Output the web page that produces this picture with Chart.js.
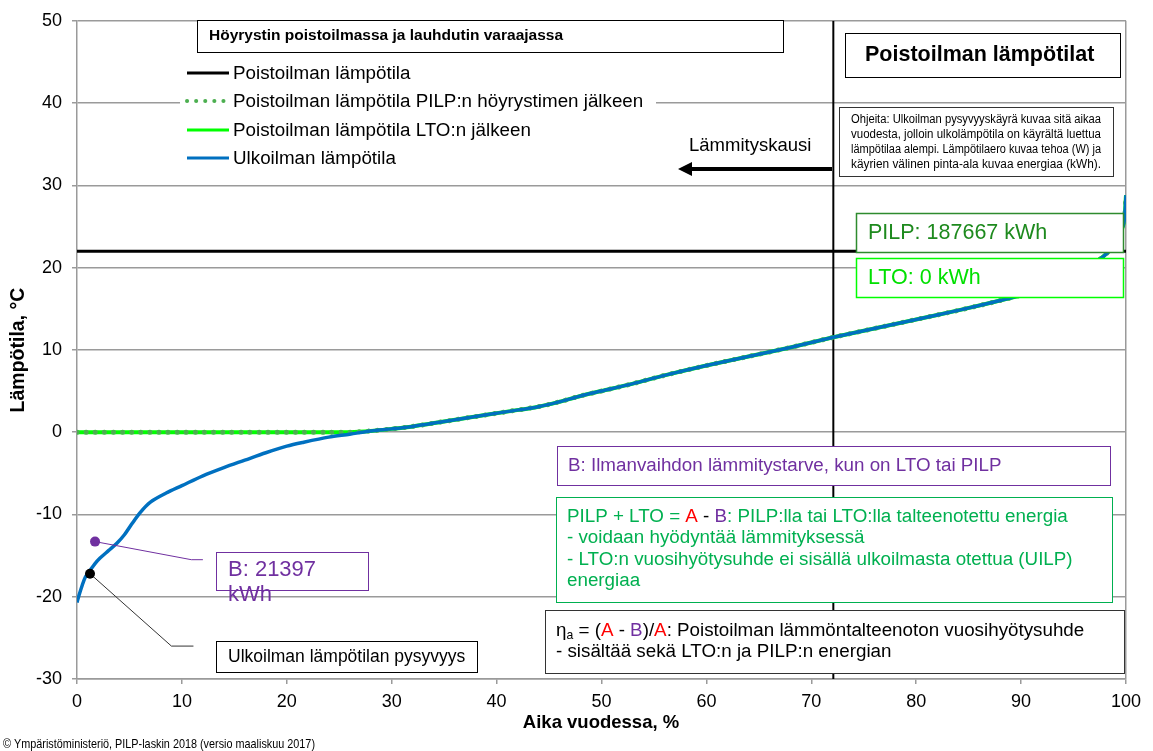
<!DOCTYPE html>
<html>
<head>
<meta charset="utf-8">
<script src="https://cdn.jsdelivr.net/npm/chart.js@4"></script>
<style>
  html, body { margin: 0; padding: 0; background: #fff; }
  #chart { display: block; }
</style>
</head>
<body>
<canvas id="chart" width="1153" height="751"></canvas>
<script>
// Poistoilman lämpötilat: ulkoilman pysyvyyskäyrä + poistoilman lämpötilat (PILP-laskin)

// Aika vuodessa, % (x) ja lämpötilat (°C), luettu kuvasta
const TIME_PCT = [0, 0.2, 0.5, 0.8, 1.2, 1.7, 2.2, 3.0, 3.8, 4.5, 5.2, 6.0, 7.0, 8.5, 10, 12, 14, 16, 18, 20, 21.5, 24, 26, 28, 30, 32, 35, 38, 41, 44, 46, 48, 50, 53, 56, 60, 64, 68, 72, 76, 80, 84, 88, 91, 94, 96, 97.5, 98.5, 99.3, 99.8, 100];
const OUTDOOR_T = [-20.7, -19.8, -18.6, -17.6, -16.9, -16.0, -15.3, -14.4, -13.5, -12.5, -11.2, -9.8, -8.5, -7.4, -6.5, -5.3, -4.3, -3.4, -2.5, -1.7, -1.25, -0.6, -0.25, 0.15, 0.4, 0.7, 1.3, 1.9, 2.5, 3.1, 3.7, 4.4, 5.0, 5.9, 6.9, 8.1, 9.2, 10.3, 11.5, 12.6, 13.7, 14.8, 16.0, 17.0, 18.3, 19.6, 21.0, 22.2, 23.8, 25.5, 28.8];
const AFTER_LTO_T = [0, 0, 0, 0, 0, 0, 0, 0, 0, 0, 0, 0, 0, 0, 0, 0, 0, 0, 0, 0, 0, 0, 0, 0.15, 0.4, 0.7, 1.3, 1.9, 2.5, 3.1, 3.7, 4.4, 5.0, 5.9, 6.9, 8.1, 9.2, 10.3, 11.5, 12.6, 13.7, 14.8, 16.0, 17.0, 18.3, 19.6, 21.0, 22.2, 23.8, 25.5, 28.8];
const AFTER_PILP_T = [0, 0, 0, 0, 0, 0, 0, 0, 0, 0, 0, 0, 0, 0, 0, 0, 0, 0, 0, 0, 0, 0, 0, 0.15, 0.4, 0.7, 1.3, 1.9, 2.5, 3.1, 3.7, 4.4, 5.0, 5.9, 6.9, 8.1, 9.2, 10.3, 11.5, 12.6, 13.7, 14.8, 16.0, 17.0, 18.3, 19.6, 21.0, 22.2, 23.8, 25.5, 28.8];

const EXHAUST_X = [0, 100];
const EXHAUST_T = [22, 22];

const HEATING_LIMIT_X = [72.1, 72.1];
const HEATING_LIMIT_Y = [50, -30];

// callouts: dot on curve -> elbow -> end
const CALLOUT_B_X = [1.72, 10.9, 12.0];
const CALLOUT_B_Y = [-13.3, -15.5, -15.5];
const CALLOUT_P_X = [1.24, 9.0, 11.1];
const CALLOUT_P_Y = [-17.2, -26.0, -26.0];

const X_TICKS = [0, 10, 20, 30, 40, 50, 60, 70, 80, 90, 100];
const Y_TICKS = [-30, -20, -10, 0, 10, 20, 30, 40, 50];

const LEGEND_ITEMS = [
  { label: 'Poistoilman lämpötila', kind: 'solid', color: '#000000' },
  { label: 'Poistoilman lämpötila PILP:n höyrystimen jälkeen', kind: 'dots', color: '#4caf50' },
  { label: 'Poistoilman lämpötila LTO:n jälkeen', kind: 'solid', color: '#00ff00' },
  { label: 'Ulkoilman lämpötila', kind: 'solid', color: '#0070c0' }
];

const FONT = '"Liberation Sans", Arial, sans-serif';
const NARROW = '"Liberation Sans Narrow", "Arial Narrow", "Liberation Sans", sans-serif';
const PURPLE = '#7030a0';
const GREEN = '#00b050';
const RED = '#ff0000';

const pts = (xs, ys) => xs.map((x, i) => ({ x, y: ys[i] }));

function box(ctx, x1, y1, x2, y2, stroke, lw) {
  ctx.save();
  ctx.fillStyle = '#fff';
  ctx.fillRect(x1, y1, x2 - x1, y2 - y1);
  ctx.strokeStyle = stroke;
  ctx.lineWidth = lw || 1;
  ctx.strokeRect(x1 + 0.5, y1 + 0.5, x2 - x1, y2 - y1);
  ctx.restore();
}

function text(ctx, str, x, y, font, color, maxW) {
  ctx.save();
  ctx.font = font;
  ctx.fillStyle = color;
  ctx.textBaseline = 'middle';
  if (maxW) ctx.fillText(str, x, y, maxW); else ctx.fillText(str, x, y);
  ctx.restore();
}

// segments of differently coloured text on one line
function rich(ctx, segs, x, y, size) {
  ctx.save();
  ctx.textBaseline = 'middle';
  let cx = x;
  for (const s of segs) {
    const fs = s.sub ? size * 0.65 : size;
    ctx.font = fs + 'px ' + FONT;
    ctx.fillStyle = s.c;
    ctx.fillText(s.t, cx, s.sub ? y + size * 0.25 : y);
    cx += ctx.measureText(s.t).width;
  }
  ctx.restore();
}

const annotations = {
  id: 'annotations',
  afterDatasetsDraw(chart) {
    const ctx = chart.ctx;

    // legend block
    ctx.save();
    ctx.fillStyle = '#fff';
    ctx.fillRect(180, 60, 476, 112);
    ctx.restore();
    box(ctx, 197, 20, 783, 52, '#000', 1);
    text(ctx, 'Höyrystin poistoilmassa ja lauhdutin varaajassa', 209, 36, 'bold 15.5px ' + FONT, '#000');
    const rows = [73, 101, 130, 158];
    LEGEND_ITEMS.forEach((it, i) => {
      const y = rows[i];
      ctx.save();
      ctx.strokeStyle = it.color;
      if (it.kind === 'dots') {
        ctx.lineWidth = 4;
        ctx.lineCap = 'round';
        ctx.setLineDash([0.1, 9]);
      } else {
        ctx.lineWidth = 3;
      }
      ctx.beginPath();
      ctx.moveTo(187, y);
      ctx.lineTo(229, y);
      ctx.stroke();
      ctx.restore();
      text(ctx, it.label, 233, y + 1, '18.8px ' + FONT, '#000');
    });

    // title box
    box(ctx, 845, 33, 1120, 77, '#000', 1);
    text(ctx, 'Poistoilman lämpötilat', 865, 55, 'bold 21.5px ' + FONT, '#000');

    // instructions
    box(ctx, 839, 107, 1113, 176, '#333', 1);
    const help = [
      'Ohjeita: Ulkoilman pysyvyyskäyrä kuvaa sitä aikaa',
      'vuodesta, jolloin ulkolämpötila on käyrältä luettua',
      'lämpötilaa alempi. Lämpötilaero kuvaa tehoa (W) ja',
      'käyrien välinen pinta-ala kuvaa energiaa (kWh).'
    ];
    help.forEach((l, i) => text(ctx, l, 851, 120 + i * 15, '12.5px ' + NARROW, '#000', 250));

    // heating season arrow
    text(ctx, 'Lämmityskausi', 689, 146, '18.5px ' + FONT, '#000');
    ctx.save();
    ctx.strokeStyle = '#000';
    ctx.fillStyle = '#000';
    ctx.lineWidth = 4;
    ctx.beginPath();
    ctx.moveTo(832, 169);
    ctx.lineTo(688, 169);
    ctx.stroke();
    ctx.beginPath();
    ctx.moveTo(678, 169);
    ctx.lineTo(692, 162);
    ctx.lineTo(692, 176);
    ctx.closePath();
    ctx.fill();
    ctx.restore();

    // energies
    box(ctx, 856, 213, 1123, 252, '#2e8b2e', 1.5);
    text(ctx, 'PILP: 187667 kWh', 868, 233, '21.5px ' + FONT, '#1e8a1e');
    box(ctx, 856, 258, 1123, 297, '#00ff00', 1.5);
    text(ctx, 'LTO: 0 kWh', 868, 278, '21.5px ' + FONT, '#00e000');

    // B explanation
    box(ctx, 557, 446, 1110, 485, PURPLE, 1);
    text(ctx, 'B: Ilmanvaihdon lämmitystarve, kun on LTO tai PILP', 568, 466, '18.8px ' + FONT, PURPLE);

    box(ctx, 556, 497, 1112, 602, GREEN, 1);
    rich(ctx, [
      { t: 'PILP + LTO = ', c: GREEN },
      { t: 'A', c: RED },
      { t: ' - ', c: '#000' },
      { t: 'B', c: PURPLE },
      { t: ': PILP:lla tai LTO:lla talteenotettu energia', c: GREEN }
    ], 567, 517, 18.8);
    text(ctx, '- voidaan hyödyntää lämmityksessä', 567, 538, '18.8px ' + FONT, GREEN);
    text(ctx, '- LTO:n vuosihyötysuhde ei sisällä ulkoilmasta otettua (UILP)', 567, 560, '18.8px ' + FONT, GREEN);
    text(ctx, 'energiaa', 567, 581, '18.8px ' + FONT, GREEN);

    box(ctx, 545, 610, 1124, 673, '#333', 1);
    rich(ctx, [
      { t: 'η', c: '#000' },
      { t: 'a', c: '#000', sub: true },
      { t: ' = (', c: '#000' },
      { t: 'A', c: RED },
      { t: ' - ', c: '#000' },
      { t: 'B', c: PURPLE },
      { t: ')/', c: '#000' },
      { t: 'A', c: RED },
      { t: ': Poistoilman lämmöntalteenoton vuosihyötysuhde', c: '#000' }
    ], 556, 631, 18.8);
    text(ctx, '- sisältää sekä LTO:n ja PILP:n energian', 556, 652, '18.8px ' + FONT, '#000');

    // callout labels
    box(ctx, 216, 552, 368, 590, PURPLE, 1);
    text(ctx, 'B: 21397', 228, 570, '22px ' + FONT, PURPLE);
    text(ctx, 'kWh', 228, 595, '22px ' + FONT, PURPLE);
    box(ctx, 216, 641, 477, 672, '#000', 1);
    text(ctx, 'Ulkoilman lämpötilan pysyvyys', 228, 657, '17.5px ' + FONT, '#000');

    // axis titles
    ctx.save();
    ctx.translate(19, 350);
    ctx.rotate(-Math.PI / 2);
    ctx.font = 'bold 19.5px ' + FONT;
    ctx.fillStyle = '#000';
    ctx.textAlign = 'center';
    ctx.textBaseline = 'middle';
    ctx.fillText('Lämpötila, °C', 0, 0);
    ctx.restore();
    ctx.save();
    ctx.font = 'bold 18.5px ' + FONT;
    ctx.fillStyle = '#000';
    ctx.textAlign = 'center';
    ctx.textBaseline = 'middle';
    ctx.fillText('Aika vuodessa, %', 601, 723);
    ctx.restore();

    text(ctx, '© Ympäristöministeriö, PILP-laskin 2018 (versio maaliskuu 2017)', 3, 744, '13px ' + NARROW, '#000', 312);
  }
};

new Chart(document.getElementById('chart').getContext('2d'), {
  type: 'scatter',
  data: {
    datasets: [
      {
        label: 'callout B',
        data: pts(CALLOUT_B_X, CALLOUT_B_Y),
        showLine: true,
        borderColor: PURPLE,
        borderWidth: 1,
        pointRadius: [5, 0, 0],
        pointBackgroundColor: PURPLE,
        pointBorderWidth: 0
      },
      {
        label: 'callout pysyvyys',
        data: pts(CALLOUT_P_X, CALLOUT_P_Y),
        showLine: true,
        borderColor: '#333',
        borderWidth: 1,
        pointRadius: [5, 0, 0],
        pointBackgroundColor: '#000',
        pointBorderWidth: 0
      },
      {
        label: 'Ulkoilman lämpötila',
        data: pts(TIME_PCT, OUTDOOR_T),
        showLine: true,
        borderColor: '#0070c0',
        borderWidth: 3.5,
        tension: 0.3,
        pointRadius: 0
      },
      {
        label: 'Poistoilman lämpötila PILP:n höyrystimen jälkeen',
        data: pts(TIME_PCT, AFTER_PILP_T),
        showLine: true,
        borderColor: '#4caf50',
        borderWidth: 5,
        borderDash: [0.1, 9],
        borderCapStyle: 'round',
        tension: 0.3,
        pointRadius: 0
      },
      {
        label: 'Poistoilman lämpötila LTO:n jälkeen',
        data: pts(TIME_PCT, AFTER_LTO_T),
        showLine: true,
        borderColor: '#00ff00',
        borderWidth: 4,
        tension: 0.3,
        pointRadius: 0
      },
      {
        label: 'Poistoilman lämpötila',
        data: pts(EXHAUST_X, EXHAUST_T),
        showLine: true,
        borderColor: '#000',
        borderWidth: 3,
        pointRadius: 0
      },
      {
        label: 'Lämmityskausi',
        data: pts(HEATING_LIMIT_X, HEATING_LIMIT_Y),
        showLine: true,
        borderColor: '#000',
        borderWidth: 2,
        pointRadius: 0
      }
    ]
  },
  options: {
    responsive: false,
    devicePixelRatio: 1,
    animation: false,
    layout: { padding: { left: 0, right: 27, top: 18, bottom: 0 } },
    plugins: {
      legend: { display: false },
      tooltip: { enabled: false }
    },
    scales: {
      x: {
        type: 'linear',
        min: 0,
        max: 100,
        afterBuildTicks: s => { s.ticks = X_TICKS.map(v => ({ value: v })); },
        afterFit: s => { s.height = 72; },
        ticks: { font: { family: FONT, size: 18 }, color: '#000', padding: 7 },
        grid: {
          color: c => (c.tick && c.tick.value === 100 ? '#9a9a9a' : 'rgba(0,0,0,0)'),
          tickColor: '#9a9a9a',
          tickLength: 5,
          lineWidth: 1.5
        },
        border: { color: '#9a9a9a', width: 1.5 }
      },
      y: {
        min: -30,
        max: 50,
        afterBuildTicks: s => { s.ticks = Y_TICKS.map(v => ({ value: v })); },
        afterFit: s => { s.width = 77; },
        ticks: { font: { family: FONT, size: 18 }, color: '#000', padding: 10 },
        grid: { color: '#9a9a9a', tickColor: '#9a9a9a', tickLength: 5, lineWidth: 1.5 },
        border: { color: '#9a9a9a', width: 1.5 }
      }
    }
  },
  plugins: [annotations]
});
</script>
</body>
</html>
